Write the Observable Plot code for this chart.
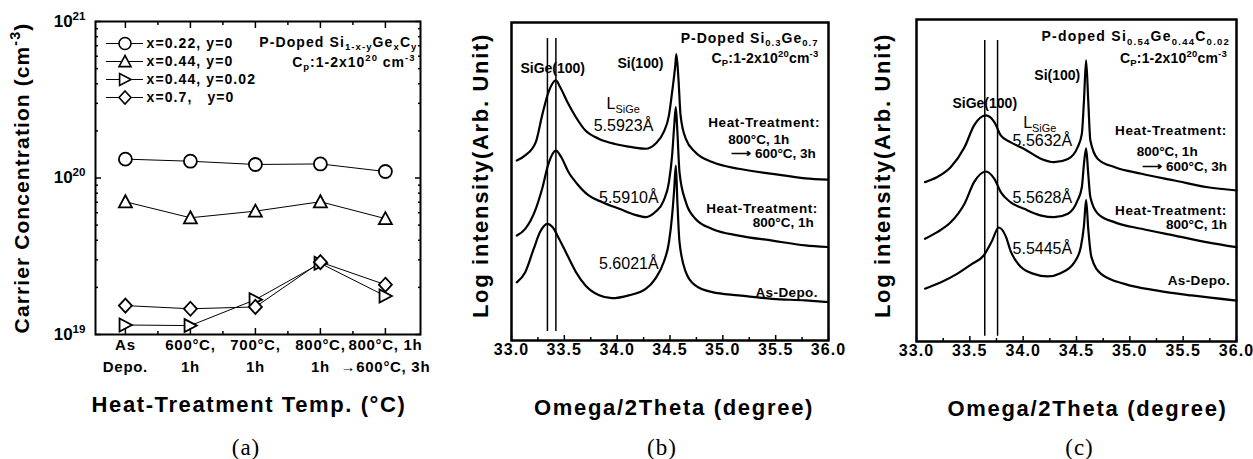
<!DOCTYPE html>
<html><head><meta charset="utf-8">
<script src="https://cdn.jsdelivr.net/npm/d3@7"></script>
<script src="https://cdn.jsdelivr.net/npm/@observablehq/plot@0.6"></script>
<style>
body{margin:0;background:#fff;}
#wrap{position:relative;width:1253px;height:459px;overflow:hidden;background:#fff;}
#wrap > div, #wrap > svg, #wrap > figure{position:absolute;margin:0;}
</style></head><body><div id="wrap"></div>
<script>
// ================= DATA =================
// (a) carrier concentration vs heat treatment
const treatments = ["As\nDepo.", "600°C,\n1h", "700°C,\n1h", "800°C,\n1h", "800°C, 1h\n→600°C, 3h"];
const seriesNames = ["x=0.22, y=0", "x=0.44, y=0", "x=0.44, y=0.02", "x=0.7,\u00a0\u00a0\u00a0y=0"];
const conc_x022_y0  = [1.32e20, 1.28e20, 1.22e20, 1.23e20, 1.10e20];
const conc_x044_y0  = [7.05e19, 5.57e19, 6.14e19, 7.05e19, 5.50e19];
const conc_x044_y002 = [1.15e19, 1.14e19, 1.67e19, 2.85e19, 1.76e19];
const conc_x07_y0   = [1.53e19, 1.46e19, 1.50e19, 2.90e19, 2.08e19];
const concMajorTicks = [1e19, 1e20, 1e21];
const concMinorTicks = [2e19,3e19,4e19,5e19,6e19,7e19,8e19,9e19,2e20,3e20,4e20,5e20,6e20,7e20,8e20,9e20];

// (b) XRD, P-doped Si0.3Ge0.7  [2theta (deg), log intensity (arb.)]
const xrdB_800_600 = [[33.05,56.6],[33.13,58.2],[33.23,62.4],[33.29,70.8],[33.35,78.1],[33.42,81.8],[33.46,79.7],[33.53,74.9],[33.61,70.2],[33.70,66.0],[33.83,63.4],[33.98,61.8],[34.14,60.8],[34.27,60.3],[34.36,61.8],[34.44,65.5],[34.49,70.8],[34.52,78.1],[34.55,86.5],[34.56,90.1],[34.58,82.3],[34.60,70.8],[34.65,63.4],[34.74,59.2],[34.90,56.1],[35.15,54.0],[35.47,52.4],[35.78,51.0],[35.99,50.6]];
const xrdB_800 = [[33.05,33.0],[33.13,35.1],[33.23,41.4],[33.29,47.7],[33.35,55.6],[33.42,59.7],[33.47,57.7],[33.54,52.9],[33.62,49.3],[33.73,45.6],[33.86,43.5],[34.02,41.4],[34.17,39.5],[34.27,38.8],[34.36,40.4],[34.44,44.0],[34.49,49.8],[34.52,58.2],[34.54,67.6],[34.555,73.4],[34.57,65.5],[34.59,52.9],[34.65,43.5],[34.74,38.3],[34.90,35.1],[35.15,33.0],[35.47,31.4],[35.78,29.9],[35.99,29.4]];
const xrdB_asdepo = [[33.05,18.3],[33.13,21.5],[33.21,28.8],[33.27,34.1],[33.34,36.7],[33.39,35.6],[33.45,32.0],[33.53,26.7],[33.61,21.5],[33.70,17.3],[33.83,14.2],[33.95,13.3],[34.11,14.2],[34.27,16.2],[34.36,19.4],[34.44,24.6],[34.49,30.9],[34.52,39.3],[34.54,47.7],[34.555,55.0],[34.57,43.5],[34.59,30.9],[34.65,21.5],[34.74,17.3],[34.90,15.2],[35.15,14.2],[35.47,13.1],[35.78,12.6],[35.99,12.1]];
const sigeLinesB = [33.34, 33.42];

// (c) XRD, P-doped Si0.54Ge0.44C0.02
const xrdC_800_600 = [[33.08,49.5],[33.19,51.0],[33.32,54.1],[33.45,60.3],[33.54,67.1],[33.65,70.2],[33.73,68.1],[33.79,64.0],[33.88,61.9],[34.01,59.8],[34.17,56.7],[34.29,55.7],[34.42,56.7],[34.51,60.3],[34.55,64.5],[34.57,74.8],[34.59,87.3],[34.61,74.8],[34.63,62.4],[34.70,56.7],[34.86,54.1],[35.11,52.1],[35.42,50.0],[35.73,47.9],[36.0,46.9]];
const xrdC_800 = [[33.08,31.9],[33.19,33.9],[33.32,37.0],[33.45,42.8],[33.54,49.5],[33.65,52.8],[33.73,50.5],[33.79,46.4],[33.88,43.3],[34.01,41.2],[34.17,39.1],[34.29,38.6],[34.42,39.7],[34.51,43.8],[34.55,47.9],[34.57,55.2],[34.59,60.0],[34.61,52.1],[34.63,44.8],[34.70,39.7],[34.86,37.0],[35.11,35.0],[35.42,32.9],[35.73,30.8],[36.0,29.3]];
const xrdC_asdepo = [[33.08,16.4],[33.23,18.4],[33.38,21.0],[33.52,24.1],[33.63,26.7],[33.71,31.4],[33.77,35.4],[33.84,32.4],[33.88,28.3],[33.98,23.1],[34.10,21.0],[34.23,20.2],[34.35,21.2],[34.48,24.6],[34.54,29.3],[34.57,36.0],[34.59,44.0],[34.61,35.0],[34.64,26.2],[34.73,21.0],[34.95,17.9],[35.26,15.8],[35.58,14.3],[36.0,12.7]];
const sigeLinesC = [33.64, 33.76];

const xrdTicks = [33.0, 33.5, 34.0, 34.5, 35.0, 35.5, 36.0];
const xrdMinorTicks = [33.25, 33.75, 34.25, 34.75, 35.25, 35.75];

// annotations: [kind, text, 2theta, intensity]
const annoB = [
  ["title", "P-Doped Si_{0.3}Ge_{0.7}", 35.905, 95.0],
  ["title", "C_{P}:1-2x10^{20}cm^{-3}", 35.905, 88.8],
  ["peak", "SiGe(100)", 33.39, 85.5],
  ["peak", "Si(100)", 34.22, 87.1],
  ["L", "L_{SiGe}", 33.90, 74.5],
  ["lat", "5.5923Å", 34.06, 67.6],
  ["lat", "5.5910Å", 34.11, 45.0],
  ["lat", "5.6021Å", 34.11, 24.2],
  ["cond", "Heat-Treatment:", 35.92, 68.6],
  ["condm", "800°C, 1h", 35.34, 63.2],
  ["cond", "⟶ 600°C, 3h", 35.88, 58.6],
  ["cond", "Heat-Treatment:", 35.90, 41.5],
  ["cond", "800°C, 1h", 35.86, 37.0],
  ["cond", "As-Depo.", 35.90, 15.1]
];
const annoC = [
  ["title", "P-doped Si_{0.54}Ge_{0.44}C_{0.02}", 35.94, 94.6],
  ["title", "C_{P}:1-2x10^{20}cm^{-3}", 35.91, 87.9],
  ["peak", "Si(100)", 34.32, 82.6],
  ["peak", "SiGe(100)", 33.64, 73.9],
  ["L", "L_{SiGe}", 34.00, 68.0],
  ["lat", "5.5632Å", 34.18, 62.4],
  ["lat", "5.5628Å", 34.18, 44.7],
  ["lat", "5.5445Å", 34.18, 28.9],
  ["cond", "Heat-Treatment:", 35.91, 65.5],
  ["condm", "800°C, 1h", 35.35, 58.8],
  ["cond", "⟶ 600°C, 3h", 35.91, 54.2],
  ["cond", "Heat-Treatment:", 35.91, 40.7],
  ["cond", "800°C, 1h", 35.91, 36.4],
  ["cond", "As-Depo.", 35.94, 18.9]
];

// ================= RENDER =================
const FONT = '"Liberation Sans", Arial, Helvetica, sans-serif';
const baseStyle = {fontFamily: FONT, fontSize: "14px", color: "black", background: "transparent", overflow: "visible"};
const wrap = document.getElementById("wrap");

function place(node, left, top) { node.style.position = "absolute"; node.style.left = left + "px"; node.style.top = top + "px"; wrap.appendChild(node); }

// marker shapes
const rad = s => Math.sqrt(s / Math.PI);
const symCircle = d3.symbolCircle;
const symTriUp = {draw(c, s) { const r = rad(s); c.moveTo(0, -r); c.lineTo(r, 0.85 * r); c.lineTo(-r, 0.85 * r); c.closePath(); }};
const symTriRight = {draw(c, s) { const r = rad(s); c.moveTo(r, 0); c.lineTo(-0.9 * r, -r); c.lineTo(-0.9 * r, r); c.closePath(); }};
const symDiamond = {draw(c, s) { const r = rad(s); c.moveTo(0, -1.08 * r); c.lineTo(r, 0); c.lineTo(0, 1.08 * r); c.lineTo(-r, 0); c.closePath(); }};
const markers = [symCircle, symTriUp, symTriRight, symDiamond];
const seriesA = [conc_x022_y0, conc_x044_y0, conc_x044_y002, conc_x07_y0];
const mid = {textAnchor: "middle", lineAnchor: "middle"};
const SERIF = '"Liberation Serif", "Times New Roman", serif';

// ---- panel (a)
const plotA = Plot.plot({
  width: 430, height: 459,
  marginLeft: 95, marginRight: 10, marginTop: 21, marginBottom: 125,
  x: {type: "linear", domain: [-0.46, 4.54], axis: null},
  y: {type: "log", domain: [1e19, 1e21], axis: null},
  style: baseStyle,
  marks: [
    ...seriesA.map(vals => Plot.line(vals, {x: (d, i) => i, y: d => d, stroke: "black", strokeWidth: 1})),
    ...seriesA.map((vals, s) => Plot.dot(vals, {x: (d, i) => i, y: d => d, symbol: markers[s], r: 6.5, fill: "white", stroke: "black", strokeWidth: 1.8})),
    Plot.axisY({anchor: "left", ticks: concMajorTicks, tickSize: 0, tickPadding: 10, tickFormat: d => "10^{" + Math.round(Math.log10(d)) + "}", fontSize: 17, fontWeight: "bold", label: null}),
    Plot.axisY({anchor: "left", ticks: concMajorTicks, tickSize: -6, fill: "none", strokeWidth: 1.5, label: null}),
    Plot.axisY({anchor: "left", ticks: concMinorTicks, tickSize: -3, fill: "none", strokeWidth: 1.5, label: null}),
    Plot.axisY({anchor: "right", ticks: concMajorTicks, tickSize: -6, fill: "none", strokeWidth: 1.5, label: null}),
    Plot.axisY({anchor: "right", ticks: concMinorTicks, tickSize: -3, fill: "none", strokeWidth: 1.5, label: null}),
    Plot.axisX({anchor: "bottom", ticks: treatments.map((t, i) => i), tickSize: 0, tickPadding: 0, tickFormat: i => treatments[i], fontSize: 15, fontWeight: "bold", lineHeight: 1.45, label: null}),
    Plot.axisX({anchor: "bottom", ticks: treatments.map((t, i) => i), tickSize: -6, fill: "none", strokeWidth: 1.5, label: null}),
    Plot.axisX({anchor: "bottom", ticks: treatments.slice(1).map((t, i) => i + 0.5), tickSize: -3, fill: "none", strokeWidth: 1.5, label: null}),
    Plot.axisX({anchor: "top", ticks: treatments.map((t, i) => i), tickSize: -6, fill: "none", strokeWidth: 1.5, label: null}),
    Plot.axisX({anchor: "top", ticks: treatments.slice(1).map((t, i) => i + 0.5), tickSize: -3, fill: "none", strokeWidth: 1.5, label: null}),
    Plot.frame({stroke: "black", strokeWidth: 2}),
    Plot.text(["P-Doped Si_{1-x-y}Ge_{x}C_{y}"], {text: d => d, frameAnchor: "top-right", dx: -3, dy: 21, textAnchor: "end", lineAnchor: "middle", fontSize: 14, fontWeight: "bold"}),
    Plot.text(["C_{p}:1-2x10^{20} cm^{-3}"], {text: d => d, frameAnchor: "top-right", dx: -5, dy: 41, textAnchor: "end", lineAnchor: "middle", fontSize: 14, fontWeight: "bold"}),
    Plot.text(["Heat-Treatment Temp. (°C)"], {text: d => d, frameAnchor: "bottom", dx: -9, dy: 70, ...mid, fontSize: 22, fontWeight: "bold"}),
    Plot.text(["Carrier Concentration (cm^{-3})"], {text: d => d, frameAnchor: "left", dx: -73, rotate: -90, ...mid, fontSize: 21, fontWeight: "bold"}),
    Plot.text(["(a)"], {text: d => d, frameAnchor: "bottom", dx: -12, dy: 113, ...mid, fontSize: 23, fontFamily: SERIF})
  ]
});
place(plotA, 0, 0);

// legend for (a)
const legendA = Plot.plot({
  width: 210, height: 80,
  marginLeft: 6, marginRight: 167, marginTop: 12, marginBottom: 12,
  x: {domain: [0, 1], axis: null},
  y: {type: "point", domain: seriesNames, padding: 0, axis: null},
  style: baseStyle,
  marks: [
    Plot.ruleY(seriesNames, {y: d => d, x1: 0, x2: 1, stroke: "black", strokeWidth: 1}),
    ...seriesNames.map((n, s) => Plot.dot([n], {x: 0.5, y: d => d, symbol: markers[s], r: 6, fill: "white", stroke: "black", strokeWidth: 1.6})),
    Plot.text(seriesNames, {x: 1, y: d => d, text: d => d, dx: 3, textAnchor: "start", fontSize: 14, fontWeight: "bold"})
  ]
});
place(legendA, 100, 30);

// ---- XRD panels
const kindStyle = {
  title: {textAnchor: "end", fontSize: 14, fontWeight: "bold"},
  peak: {textAnchor: "middle", fontSize: 14, fontWeight: "bold"},
  L: {textAnchor: "start", fontSize: 16, fontWeight: "normal"},
  lat: {textAnchor: "middle", fontSize: 16, fontWeight: "normal"},
  cond: {textAnchor: "end", fontSize: 13.5, fontWeight: "bold"},
  condm: {textAnchor: "middle", fontSize: 13.5, fontWeight: "bold"}
};
function annoMarks(list) {
  return Object.keys(kindStyle).map(k => Plot.text(list.filter(a => a[0] === k), {x: a => a[2], y: a => a[3], text: a => a[1], ...kindStyle[k]}));
}
function xrdPanel({width, marginLeft, marginRight, marginTop, marginBottom, curves, lines, lineSpan, anno, letter, dxTitle, dxY, dyY, dyLetter, dxLetter}) {
  return Plot.plot({
    width, height: 459, marginLeft, marginRight, marginTop, marginBottom,
    x: {domain: [33, 36], axis: null},
    y: {domain: [0, 100], axis: null},
    style: baseStyle,
    marks: [
      Plot.ruleX(lines, {y1: lineSpan[0], y2: lineSpan[1], stroke: "black", strokeWidth: 1.5}),
      ...curves.map(c => Plot.line(c, {x: d => d[0], y: d => d[1], curve: "monotone-x", stroke: "black", strokeWidth: 2.2})),
      Plot.axisX({anchor: "bottom", ticks: xrdTicks, tickSize: 0, tickPadding: 3, tickFormat: d3.format(".1f"), fontSize: 16, fontWeight: "bold", label: null}),
      Plot.axisX({anchor: "bottom", ticks: xrdTicks, tickSize: -5, fill: "none", strokeWidth: 1.5, label: null}),
      Plot.axisX({anchor: "bottom", ticks: xrdMinorTicks, tickSize: -3, fill: "none", strokeWidth: 1.5, label: null}),
      Plot.frame({stroke: "black", strokeWidth: 2.5}),
      ...annoMarks(anno),
      Plot.text(["Omega/2Theta (degree)"], {text: d => d, frameAnchor: "bottom", dx: dxTitle, dy: 67, ...mid, fontSize: 22, fontWeight: "bold"}),
      Plot.text(["Log intensity(Arb. Unit)"], {text: d => d, frameAnchor: "left", dx: dxY, dy: dyY, rotate: -90, ...mid, fontSize: 22, fontWeight: "bold"}),
      Plot.text([letter], {text: d => d, frameAnchor: "bottom", dx: dxLetter, dy: dyLetter, ...mid, fontSize: 23, fontFamily: SERIF})
    ]
  });
}
const plotB = xrdPanel({width: 410, marginLeft: 81, marginRight: 12, marginTop: 22, marginBottom: 119,
  curves: [xrdB_800_600, xrdB_800, xrdB_asdepo], lines: sigeLinesB, lineSpan: [2.8, 95], anno: annoB,
  letter: "(b)", dxTitle: 4, dxY: -31, dyY: -6, dyLetter: 107, dxLetter: -8});
place(plotB, 430, 0);
const plotC = xrdPanel({width: 413, marginLeft: 76, marginRight: 17, marginTop: 19, marginBottom: 118,
  curves: [xrdC_800_600, xrdC_800, xrdC_asdepo], lines: sigeLinesC, lineSpan: [1.6, 93.5], anno: annoC,
  letter: "(c)", dxTitle: 11, dxY: -34, dyY: -5, dyLetter: 106, dxLetter: 3});
place(plotC, 840, 0);

// ---- post-processing: letter spacing (by text content) and super/subscripts
const flatTreat = treatments.map(t => t.replace("\n", ""));
function spacingFor(s) {
  if (s === "Heat-Treatment Temp. (°C)") return 1.6;
  if (s.startsWith("Carrier Concentration")) return 1.1;
  if (s === "Omega/2Theta (degree)" || s.startsWith("Log intensity")) return 1.7;
  if (/^3\d\.\d$/.test(s)) return 1.1;
  if (seriesNames.includes(s)) return 1.1;
  if (flatTreat.includes(s)) return 0.7;
  if (s.startsWith("P-Doped Si_{1")) return 1.1;
  if (s.startsWith("C_{p}:")) return 1.0;
  if (s.startsWith("P-Doped Si_{0.3}")) return 1.0;
  if (s.startsWith("P-doped Si_{0.54}")) return 1.25;
  if (s.startsWith("C_{P}:")) return 0.2;
  if (s === "Heat-Treatment:") return 0.6;
  if (s === "As-Depo.") return 0.4;
  if (/^\([abc]\)$/.test(s)) return 1;
  return null;
}
wrap.querySelectorAll("text").forEach(el => {
  const v = spacingFor(el.textContent);
  if (v != null) el.setAttribute("letter-spacing", v);
});

const NS = "http://www.w3.org/2000/svg";
wrap.querySelectorAll("text, tspan").forEach(el => {
  if (el.children.length) return;
  const s = el.textContent;
  if (!/[\^_]\{/.test(s)) return;
  const fs = parseFloat(getComputedStyle(el).fontSize) || 14;
  const parts = [];
  const re = /([\^_])\{([^}]*)\}/g;
  let last = 0, m;
  while ((m = re.exec(s))) {
    if (m.index > last) parts.push(["n", s.slice(last, m.index)]);
    parts.push([m[1] === "^" ? "sup" : "sub", m[2]]);
    last = re.lastIndex;
  }
  if (last < s.length) parts.push(["n", s.slice(last)]);
  el.textContent = "";
  let shift = 0;
  for (const [type, txt] of parts) {
    const t = document.createElementNS(NS, "tspan");
    const target = type === "sup" ? -0.42 * fs : type === "sub" ? 0.25 * fs : 0;
    if (target !== shift) t.setAttribute("dy", (target - shift).toFixed(2));
    shift = target;
    if (type !== "n") t.setAttribute("font-size", (0.68 * fs).toFixed(1));
    t.textContent = txt;
    el.appendChild(t);
  }
});
</script></body></html>
